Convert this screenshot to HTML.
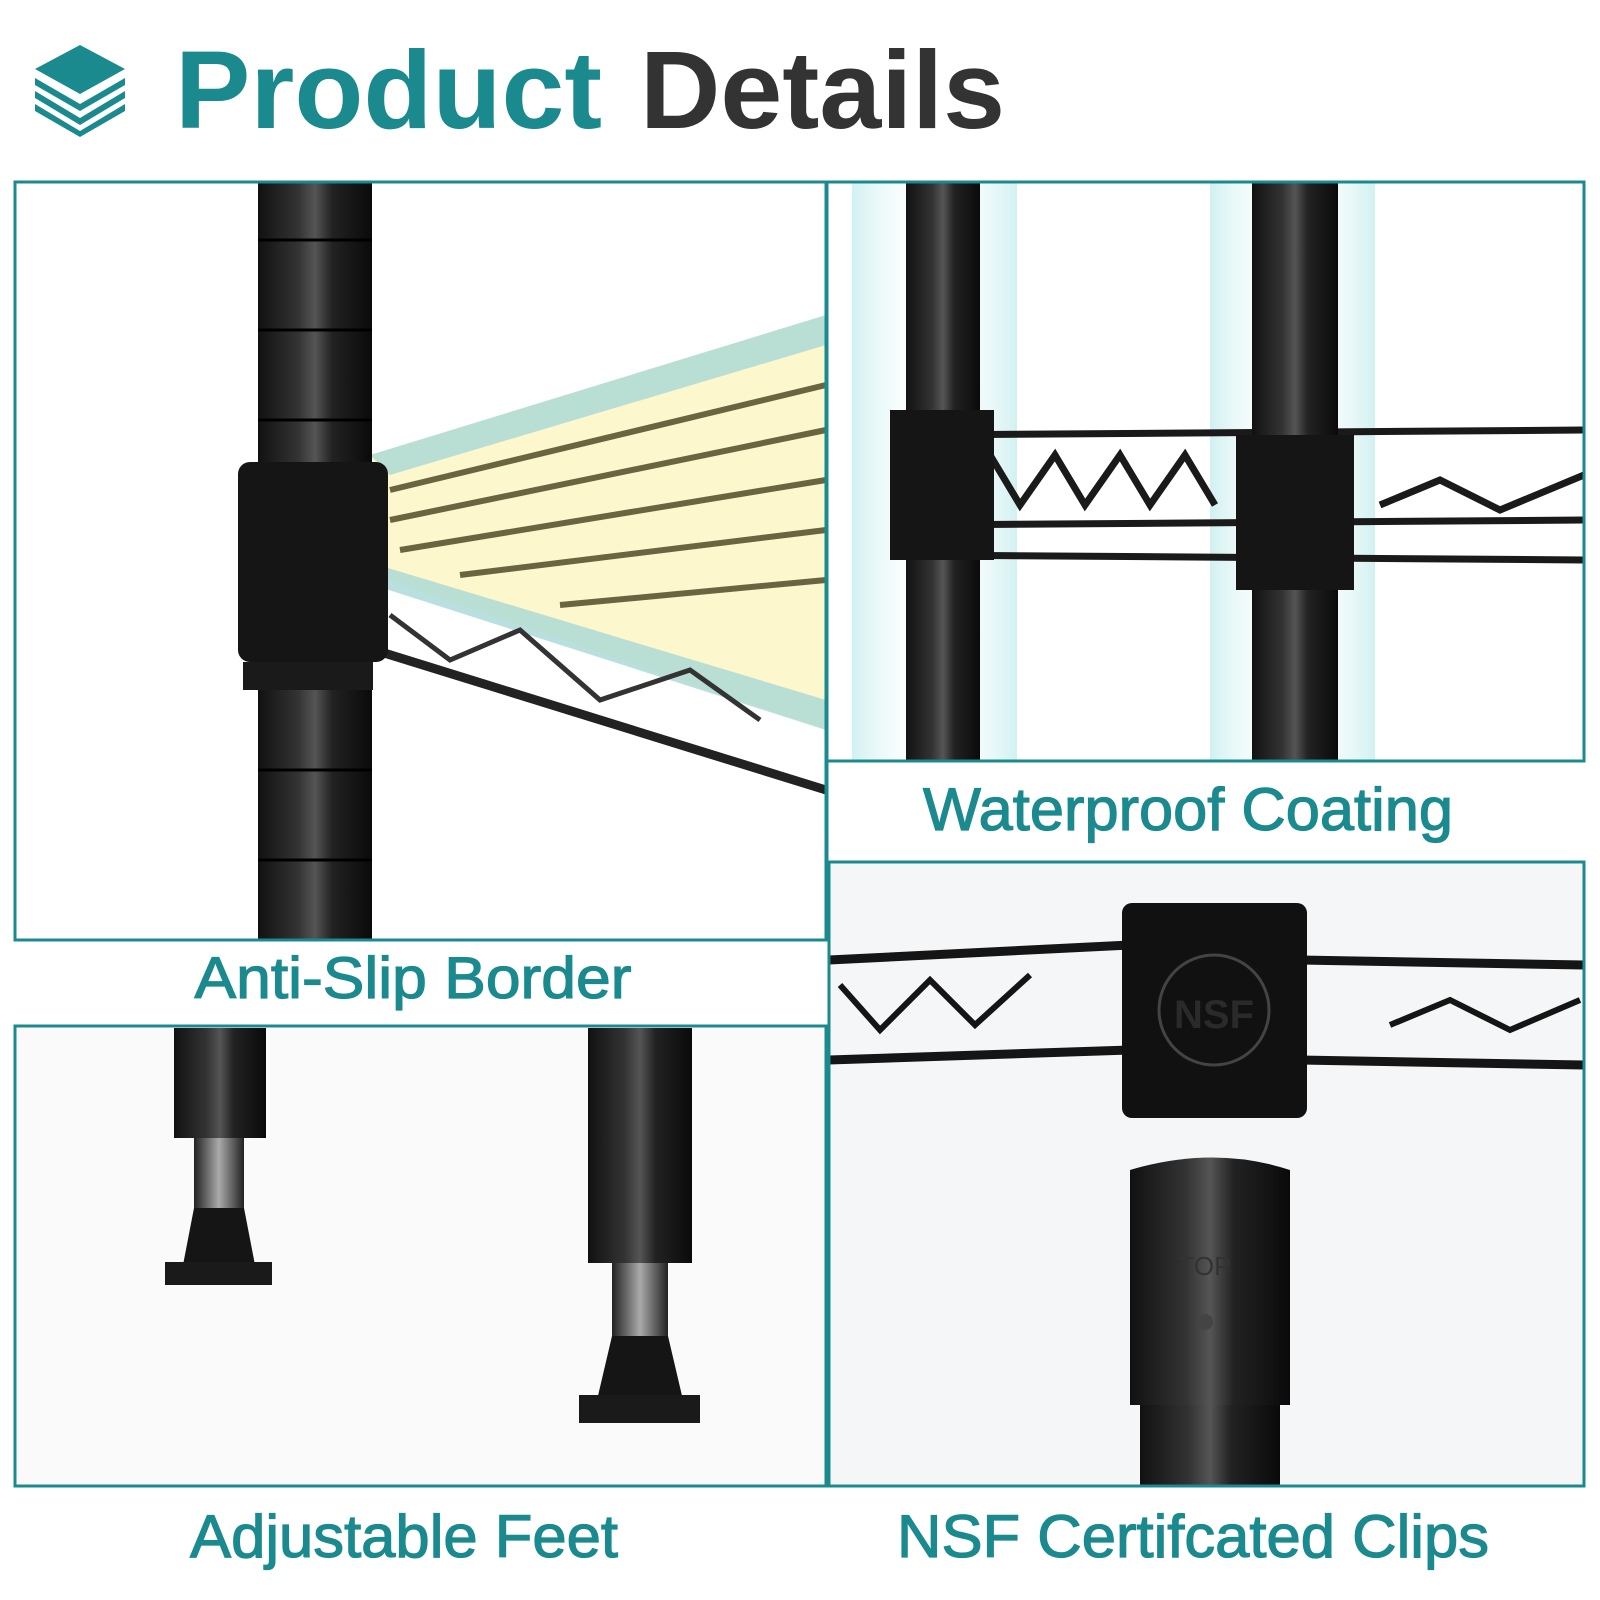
<!DOCTYPE html>
<html><head><meta charset="utf-8"><style>
html,body{margin:0;padding:0;background:#fff;width:1600px;height:1600px;overflow:hidden}
svg text{font-family:"Liberation Sans",Arial,sans-serif;font-weight:bold}
.lbl{font-weight:normal;stroke:#1a8a8f;stroke-width:1.2}
</style></head><body>
<svg width="1600" height="1600" viewBox="0 0 1600 1600" xmlns="http://www.w3.org/2000/svg">
<defs>
<linearGradient id="pole" x1="0" x2="1"><stop offset="0" stop-color="#111"/><stop offset=".35" stop-color="#333"/><stop offset=".5" stop-color="#555"/><stop offset=".65" stop-color="#222"/><stop offset="1" stop-color="#0a0a0a"/></linearGradient>
<linearGradient id="glow" x1="0" x2="1"><stop offset="0" stop-color="#cdeff0" stop-opacity=".9"/><stop offset=".5" stop-color="#fff" stop-opacity="0"/><stop offset="1" stop-color="#cdeff0" stop-opacity=".9"/></linearGradient>
<linearGradient id="metal" x1="0" x2="1"><stop offset="0" stop-color="#222"/><stop offset=".5" stop-color="#aaa"/><stop offset="1" stop-color="#222"/></linearGradient>
</defs>
<g fill="#1a8a8f">
<polygon points="80,45 125,69 80,94 35,69"/>
<polygon points="35,78 80,104 125,78 125,85 80,111 35,85"/>
<polygon points="35,91 80,118 125,91 125,98 80,125 35,98"/>
<polygon points="35,104 80,131 125,104 125,111 80,137 35,111"/>
</g>
<text x="175" y="128" font-size="110" fill="#1a8a8f" textLength="427" lengthAdjust="spacingAndGlyphs">Product</text>
<text x="640" y="128" font-size="110" fill="#333" textLength="365" lengthAdjust="spacingAndGlyphs">Details</text>

<g>
<polygon points="370,455 826,315 826,730 300,550" fill="#fdf6c8" opacity=".9"/>
<polygon points="370,455 826,315 826,345 390,475" fill="#a7d8d6" opacity=".8"/>
<polygon points="295,540 826,700 826,730 295,560" fill="#a7d8d6" opacity=".8"/>
<g stroke="#6a6540" stroke-width="6" fill="none">
<line x1="390" y1="490" x2="826" y2="385"/><line x1="390" y1="520" x2="826" y2="430"/>
<line x1="400" y1="550" x2="826" y2="480"/><line x1="460" y1="575" x2="826" y2="530"/>
<line x1="560" y1="605" x2="826" y2="580"/>
</g>
<line x1="310" y1="630" x2="826" y2="790" stroke="#222" stroke-width="9"/>
<polyline points="390,615 450,660 520,630 600,700 690,670 760,720" stroke="#333" stroke-width="5" fill="none"/>
<rect x="258" y="183" width="114" height="757" fill="url(#pole)"/>
<g stroke="#000" stroke-width="3"><line x1="258" y1="240" x2="372" y2="240"/><line x1="258" y1="330" x2="372" y2="330"/><line x1="258" y1="420" x2="372" y2="420"/><line x1="258" y1="770" x2="372" y2="770"/><line x1="258" y1="860" x2="372" y2="860"/></g>
<rect x="238" y="462" width="150" height="200" rx="12" fill="#151515"/>
<rect x="243" y="662" width="130" height="28" fill="#1a1a1a"/>
</g>
<rect x="15" y="182" width="811" height="758" fill="none" stroke="#1a8a8f" stroke-width="3"/>

<g>
<rect x="852" y="183" width="165" height="577" fill="url(#glow)"/>
<rect x="1210" y="183" width="165" height="577" fill="url(#glow)"/>
<g stroke="#1a1a1a" stroke-width="7" fill="none">
<line x1="920" y1="435" x2="1584" y2="430"/><line x1="920" y1="525" x2="1584" y2="520"/>
<line x1="920" y1="555" x2="1584" y2="560"/>
<polyline points="935,455 960,505 990,455 1020,505 1055,455 1085,505 1120,455 1150,505 1185,455 1215,505"/>
<polyline points="1380,505 1440,480 1500,510 1584,475"/>
</g>
<rect x="906" y="183" width="74" height="577" fill="url(#pole)"/>
<rect x="1252" y="183" width="86" height="577" fill="url(#pole)"/>
<rect x="890" y="410" width="104" height="150" fill="#151515"/>
<rect x="1236" y="435" width="118" height="155" fill="#151515"/>
</g>
<rect x="827" y="182" width="757" height="579" fill="none" stroke="#1a8a8f" stroke-width="3"/>
<text class="lbl" x="1188" y="830" font-size="60" fill="#1a8a8f" text-anchor="middle" textLength="530" lengthAdjust="spacingAndGlyphs">Waterproof Coating</text>

<rect x="829" y="862" width="754" height="622" fill="#f5f6f7"/>
<g stroke="#151515" stroke-width="9" fill="none">
<line x1="829" y1="960" x2="1130" y2="945"/><line x1="829" y1="1060" x2="1130" y2="1050"/>
<line x1="1300" y1="960" x2="1584" y2="965"/><line x1="1300" y1="1060" x2="1584" y2="1065"/>
<polyline points="840,985 880,1030 930,980 975,1025 1030,975" stroke-width="6"/>
<polyline points="1390,1025 1450,1000 1510,1030 1580,1000" stroke-width="6"/>
</g>
<rect x="1122" y="903" width="185" height="215" rx="10" fill="#111"/>
<circle cx="1214" cy="1010" r="55" fill="none" stroke="#444" stroke-width="3"/>
<text x="1214" y="1028" font-size="40" fill="#2a2a2a" text-anchor="middle">NSF</text>
<path d="M1130,1170 Q1214,1145 1290,1170 L1290,1405 L1130,1405 Z" fill="url(#pole)"/>
<rect x="1140" y="1405" width="140" height="80" fill="url(#pole)"/>
<text x="1205" y="1275" font-size="26" fill="#333" text-anchor="middle" style="font-weight:normal">TOP</text>
<circle cx="1205" cy="1322" r="8" fill="#444"/>
<rect x="829" y="862" width="755" height="624" fill="none" stroke="#1a8a8f" stroke-width="3"/>
<line x1="827" y1="761" x2="827" y2="862" stroke="#1a8a8f" stroke-width="3"/>

<text class="lbl" x="413" y="998" font-size="58" fill="#1a8a8f" text-anchor="middle" textLength="437" lengthAdjust="spacingAndGlyphs">Anti-Slip Border</text>

<rect x="17" y="1028" width="808" height="456" fill="#fafafa"/>
<rect x="174" y="1028" width="92" height="110" fill="url(#pole)"/>
<rect x="194" y="1138" width="50" height="70" fill="url(#metal)"/>
<polygon points="194,1208 244,1208 255,1265 183,1265" fill="#151515"/>
<rect x="165" y="1262" width="107" height="23" fill="#1a1a1a"/>
<rect x="588" y="1028" width="104" height="235" fill="url(#pole)"/>
<rect x="612" y="1263" width="56" height="75" fill="url(#metal)"/>
<polygon points="612,1336 668,1336 683,1400 597,1400" fill="#151515"/>
<rect x="579" y="1395" width="121" height="28" fill="#1a1a1a"/>
<rect x="15" y="1026" width="811" height="460" fill="none" stroke="#1a8a8f" stroke-width="3"/>

<text class="lbl" x="404" y="1557" font-size="60" fill="#1a8a8f" text-anchor="middle" textLength="428" lengthAdjust="spacingAndGlyphs">Adjustable Feet</text>
<text class="lbl" x="1193" y="1557" font-size="60" fill="#1a8a8f" text-anchor="middle" textLength="592" lengthAdjust="spacingAndGlyphs">NSF Certifcated Clips</text>
</svg>
</body></html>
